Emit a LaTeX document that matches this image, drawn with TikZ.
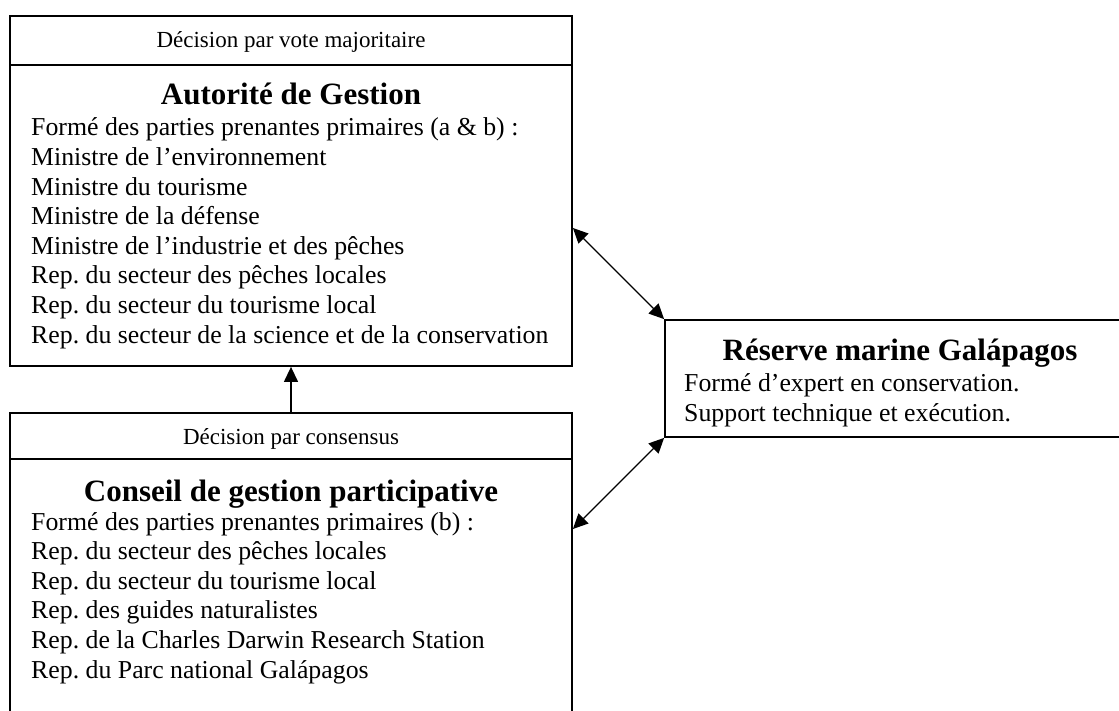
\documentclass[tikz,border=0pt]{standalone}
\usepackage{fontspec}
\setmainfont{Liberation Serif}
\usepackage{tikz}
\usetikzlibrary{arrows.meta,calc}
\frenchspacing

\begin{document}
\begin{tikzpicture}[x=1pt,y=-1pt]
\tikzset{box/.style = {shape=rectangle,draw,line width=1.8pt,inner sep=0pt}}
\tikzset{edge/.style = {-{Triangle[length=15pt,width=14pt]},line width=1.3pt}}
\tikzset{dedge/.style = {{Triangle[length=15pt,width=14pt]}-{Triangle[length=15pt,width=14pt]},line width=1.3pt}}
\tikzset{head/.style = {font=\fontsize{23}{27}\selectfont,anchor=base,inner sep=0pt}}
\tikzset{title/.style = {font=\fontsize{31}{36}\selectfont\bfseries,anchor=base,inner sep=0pt}}
\tikzset{line/.style = {font=\fontsize{25.8}{30}\selectfont,anchor=base west,inner sep=0pt}}

\useasboundingbox (0,0) rectangle (1119,711);
\clip (0,0) rectangle (1119,711);

%boxes
\node[box,minimum width=562pt,minimum height=350pt] (autorite) at (291,191) {};
\node[box,minimum width=562pt,minimum height=330pt] (conseil) at (291,578) {};
\node[box,minimum width=470pt,minimum height=117pt] (reserve) at (900,378.5) {};
\draw[line width=1.8pt] ($(autorite.north west)+(0,50)$) -- ($(autorite.north east)+(0,50)$);
\draw[line width=1.8pt] ($(conseil.north west)+(0,47)$) -- ($(conseil.north east)+(0,47)$);

%text
\node[head] (autorite-h) at (291,48) {Décision par vote majoritaire};
\node[title] (autorite-t) at (291,105) {Autorité de Gestion};
\foreach \txt [count=\i from 0] in {Formé des parties prenantes primaires (a \& b) :,
  Ministre de l’environnement, Ministre du tourisme, Ministre de la défense,
  Ministre de l’industrie et des pêches, Rep. du secteur des pêches locales,
  Rep. du secteur du tourisme local, Rep. du secteur de la science et de la conservation}
  \node[line] (autorite-\i) at (31,136+29.6*\i) {\txt};

\node[head] (conseil-h) at (291,444) {Décision par consensus};
\node[title] (conseil-t) at (291,501) {Conseil de gestion participative};
\foreach \txt [count=\i from 0] in {Formé des parties prenantes primaires (b) :,
  Rep. du secteur des pêches locales, Rep. du secteur du tourisme local,
  Rep. des guides naturalistes, Rep. de la Charles Darwin Research Station,
  Rep. du Parc national Galápagos}
  \node[line] (conseil-\i) at (31,530+29.6*\i) {\txt};

\node[title] (reserve-t) at (900,360) {Réserve marine Galápagos};
\node[line] (reserve-1) at (684,391) {Formé d’expert en conservation.};
\node[line] (reserve-2) at (684,421) {Support technique et exécution.};

%edges
\draw[edge] (conseil.north) -- (autorite.south);
\draw[dedge] ([yshift=-37pt]autorite.east) -- (reserve.north west);
\draw[dedge] ([yshift=49pt]conseil.east) -- (reserve.south west);

\end{tikzpicture}
\end{document}
